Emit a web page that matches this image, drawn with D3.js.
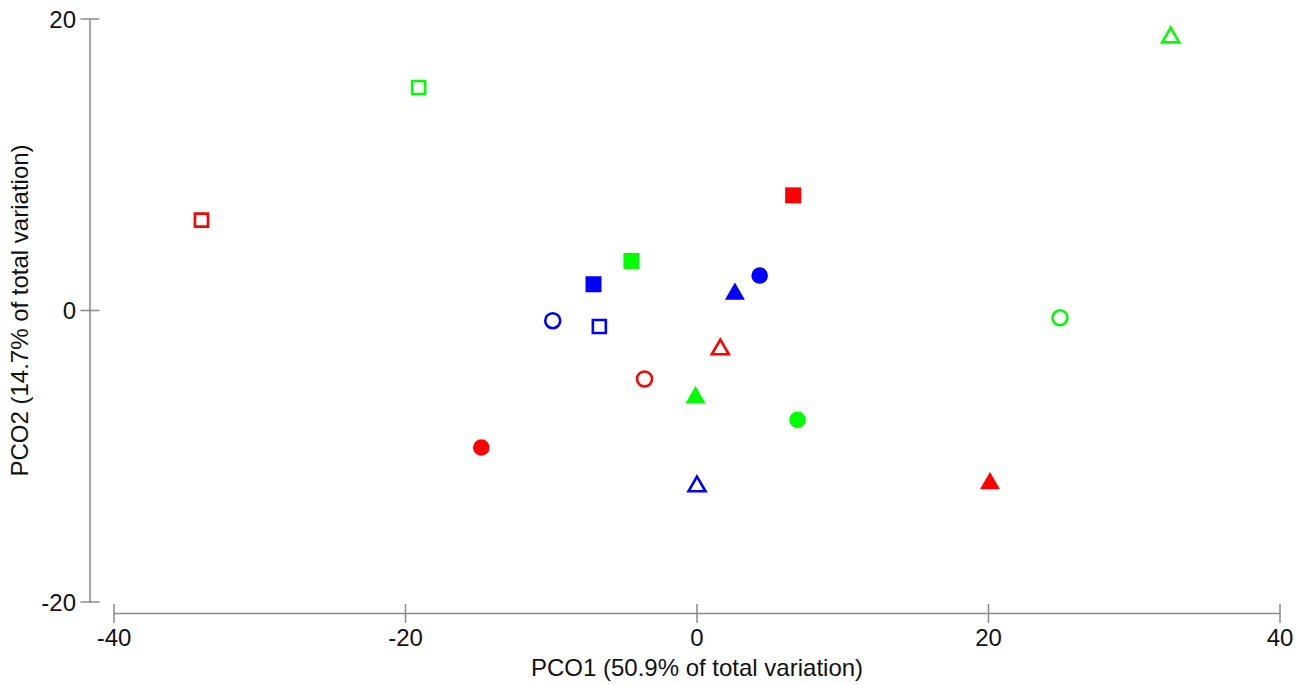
<!DOCTYPE html>
<html>
<head>
<meta charset="utf-8">
<script src="https://cdn.jsdelivr.net/npm/d3@7"></script>
<style>
  html, body { margin: 0; padding: 0; background: #fff; }
  svg { display: block; font-family: "Liberation Sans", Arial, sans-serif; }
</style>
</head>
<body>
<svg id="chart" width="1308" height="685"></svg>
<script>
// ---- data ----
const pco1 = [32.5, -19.1, -34.0, 6.6, -4.5, -7.1, 4.3, 2.6, -9.9, -6.7, 24.9, 1.6, -3.6, -0.1, 6.9, -14.8, 0.0, 20.1];
const pco2 = [18.8, 15.3, 6.2, 7.9, 3.4, 1.8, 2.4, 1.2, -0.7, -1.1, -0.5, -2.6, -4.7, -5.9, -7.5, -9.4, -12.0, -11.8];
const groupColor = ["green", "green", "red", "red", "green", "blue", "blue", "blue", "blue", "blue", "green", "red", "red", "green", "green", "red", "blue", "red"];
const groupShape = ["triangle", "square", "square", "square", "square", "square", "circle", "triangle", "circle", "square", "circle", "triangle", "circle", "triangle", "circle", "circle", "triangle", "triangle"];
const groupFilled = [false, false, false, true, true, true, true, true, false, false, false, false, false, true, true, true, false, true];
const xTicks = [-40, -20, 0, 20, 40];
const yTicks = [-20, 0, 20];
const xTitle = "PCO1 (50.9% of total variation)";
const yTitle = "PCO2 (14.7% of total variation)";

const colorMap = { red: "#ff0000", green: "#00ff00", blue: "#0000ff" };

const svg = d3.select("#chart");
const x = d3.scaleLinear().domain([-40, 40]).range([114, 1280]);
const y = d3.scaleLinear().domain([-20, 20]).range([602, 19]);
const axisColor = "#8a8a8a";

// x axis
const xAxisY = 613.5;
const gx = svg.append("g");
gx.append("line").attr("x1", x(-40)).attr("x2", x(40)).attr("y1", xAxisY).attr("y2", xAxisY)
  .attr("stroke", axisColor).attr("stroke-width", 1.5);
gx.selectAll("line.t").data(xTicks).join("line").attr("class", "t")
  .attr("x1", d => x(d)).attr("x2", d => x(d)).attr("y1", xAxisY - 9.5).attr("y2", xAxisY + 9.5)
  .attr("stroke", axisColor).attr("stroke-width", 1.5);
gx.selectAll("text").data(xTicks).join("text")
  .attr("x", d => x(d)).attr("y", 646).attr("text-anchor", "middle")
  .attr("font-size", 24).attr("fill", "#111").text(d => d);

// y axis
const yAxisX = 90;
const gy = svg.append("g");
gy.append("line").attr("x1", yAxisX).attr("x2", yAxisX).attr("y1", y(20)).attr("y2", y(-20))
  .attr("stroke", axisColor).attr("stroke-width", 1.5);
gy.selectAll("line.t").data(yTicks).join("line").attr("class", "t")
  .attr("x1", yAxisX - 9.5).attr("x2", yAxisX + 9.5).attr("y1", d => y(d)).attr("y2", d => y(d))
  .attr("stroke", axisColor).attr("stroke-width", 1.5);
gy.selectAll("text").data(yTicks).join("text")
  .attr("x", 76).attr("y", d => y(d) + 8.5).attr("text-anchor", "end")
  .attr("font-size", 24).attr("fill", "#111").text(d => d);

// titles
svg.append("text").attr("x", x(0)).attr("y", 676).attr("text-anchor", "middle")
  .attr("font-size", 24).attr("fill", "#111").text(xTitle);
svg.append("text").attr("transform", `translate(28,${y(0)}) rotate(-90)`).attr("text-anchor", "middle")
  .attr("font-size", 24).attr("fill", "#111").text(yTitle);

// points
const symbolType = { square: d3.symbolSquare, circle: d3.symbolCircle, triangle: d3.symbolTriangle };
function symSize(shape, filled) {
  if (shape === "square") { const s = filled ? 16 : 13; return s * s; }
  if (shape === "circle") { const r = filled ? 8.3 : 7.5; return Math.PI * r * r; }
  const s = filled ? 20 : 17; return Math.sqrt(3) / 4 * s * s;
}
const pts = pco1.map((v, i) => ({ px: v, py: pco2[i], c: colorMap[groupColor[i]], shape: groupShape[i], filled: groupFilled[i] }));
svg.append("g").selectAll("path").data(pts).join("path")
  .attr("transform", d => `translate(${x(d.px)},${y(d.py) + (d.shape === "triangle" ? 1 : 0)})`)
  .attr("d", d => d3.symbol().type(symbolType[d.shape]).size(symSize(d.shape, d.filled))())
  .attr("fill", d => d.filled ? d.c : "none")
  .attr("stroke", d => d.filled ? "none" : d.c)
  .attr("stroke-width", 2.6);
</script>
</body>
</html>
